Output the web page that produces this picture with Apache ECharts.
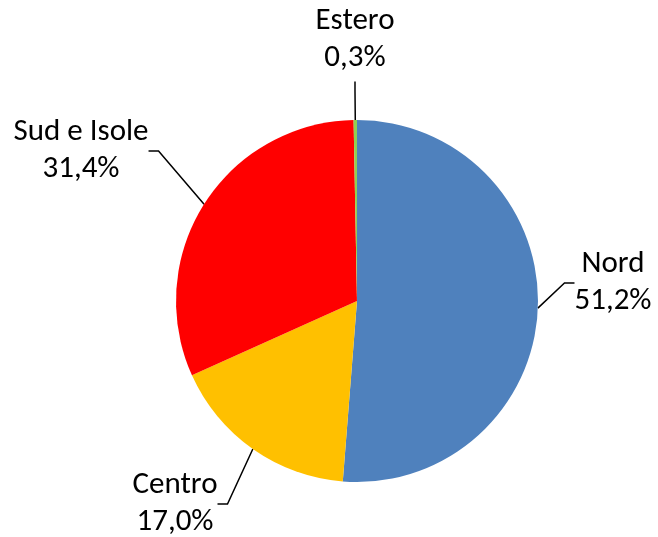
<html>
	<head>
		<script src="https://cdn.jsdelivr.net/npm/echarts@6/dist/echarts.min.js"></script>
	</head>
<body style="margin:0;background:#fff">
	<div id="main" style="width: 658px;height:537px;"></div>
	<script type="text/javascript">
		// dati
		var categories = ['Nord', 'Centro', 'Sud e Isole', 'Estero'];
		var values = [51.2, 17.0, 31.4, 0.3];
		var colors = ['#4F81BD', '#FFC000', '#FF0000', '#92D050'];

		// posizione delle etichette (centro del testo)
		var labelPos = [[613, 283], [175, 504], [81, 151], [355, 40]];

		var data = categories.map(function (c, i) {
			return { name: c, value: values[i], itemStyle: { color: colors[i] } };
		});

		var myChart = echarts.init(document.getElementById('main'));

		var option = {
			backgroundColor: '#fff',
			animation: false,
			series: [
				{
					type: 'pie',
					center: [357, 301],
					radius: 181,
					startAngle: 90,
					clockwise: true,
					data: data,
					itemStyle: { borderWidth: 0 },
					label: {
						position: 'outside',
						overflow: 'none',
						edgeDistance: 0,
						fontFamily: 'Carlito, "Noto Sans", sans-serif',
						fontSize: 31,
						lineHeight: 37,
						color: '#000',
						align: 'center',
						formatter: function (p) {
							return p.name + '\n' + p.value.toFixed(1).replace('.', ',') + '%';
						}
					},
					labelLine: {
						show: true,
						length: 20,
						length2: 10,
						lineStyle: { color: '#000', width: 1.5 }
					},
					labelLayout: function (params) {
						var pos = labelPos[params.dataIndex];
						return {
							x: pos[0],
							y: pos[1],
							align: 'center',
							verticalAlign: 'middle'
						};
					}
				}
			]
		};

		myChart.setOption(option);
	</script>
</body>
</html>
